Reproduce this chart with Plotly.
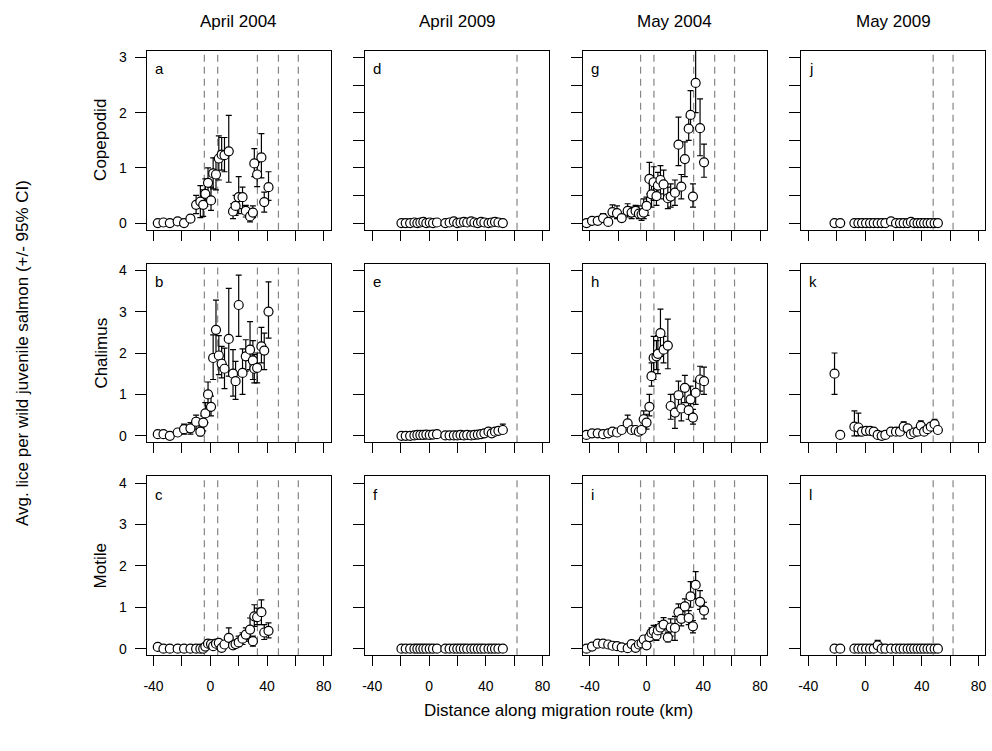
import plotly.graph_objects as go

W, H = 992, 751

# ---------------- data (km along migration route, mean lice, 95% CI) ----------------
x_apr04 = [-37, -33, -28.5, -23, -18.5, -14, -10, -7, -5, -3.5, -1.6, 0.5, 2, 4, 6, 8, 10, 13,
           16, 17.8, 20, 22.7, 25, 28, 30, 31, 33, 36, 38, 41]
x_apr09 = [-19.4, -16.4, -13.3, -10.3, -8.2, -6.1, -4, -1.9, 0.5, 2.8, 5.6, 11.5, 14.5, 17.5,
           19.9, 22.2, 24.6, 26.9, 29.7, 32, 34.4, 36.7, 39, 41.9, 44.2, 46.5, 48.9, 52]
x_may04 = [-42.3, -38.4, -34.4, -30.6, -27, -24, -20.8, -17.5, -13.3, -10.5, -7.7, -5.4, -3.5,
           -2, 0, 2, 3.5, 5, 7, 8, 9.8, 12, 15, 17, 20, 22.5, 24.5, 27, 29.7, 31, 32.7, 34.6,
           37.7, 40.5]
x_may09 = [-21.5, -17.5, -7.5, -4.7, -2.1, 0.7, 3.5, 6.1, 8.9, 11.7, 14.3, 18.3, 21.8, 24.6,
           27.2, 30, 32.3, 34.6, 37, 39.3, 41.6, 44, 46.3, 49, 51.3]

# a: Copepodid, April 2004
a_mean = [0.0, 0.01, 0.0, 0.03, 0.0, 0.08, 0.33, 0.39, 0.33, 0.53, 0.73, 0.41, 0.90, 0.88, 1.17,
          1.24, 1.23, 1.30, 0.21, 0.31, 0.47, 0.47, 0.22, 0.12, 0.19, 1.08, 0.88, 1.19, 0.38, 0.65]
a_lo = [None, None, None, None, None, 0.02, 0.17, 0.10, 0.12, 0.30, 0.47, 0.23, 0.62, 0.60, 0.78,
        0.96, 0.93, 0.74, 0.08, 0.14, 0.17, 0.26, 0.11, 0.02, 0.10, 0.84, 0.66, 0.82, 0.20, 0.41]
a_hi = [None, None, None, None, None, 0.14, 0.50, 0.68, 0.60, 0.80, 1.00, 0.65, 1.18, 1.18, 1.58,
        1.55, 1.55, 1.95, 0.35, 0.50, 0.84, 0.65, 0.32, 0.20, 0.31, 1.35, 1.10, 1.62, 0.56, 0.93]
# b: Chalimus, April 2004
b_mean = [0.04, 0.04, 0.0, 0.08, 0.16, 0.18, 0.34, 0.10, 0.32, 0.54, 1.00, 0.70, 1.88, 2.56, 1.94,
          1.74, 1.62, 2.34, 1.50, 1.32, 3.16, 1.52, 1.92, 2.08, 1.82, 1.62, 1.64, 2.16, 2.06, 3.00]
b_lo = [None, None, None, None, 0.04, 0.04, 0.16, 0.0, 0.12, 0.32, 0.72, 0.48, 1.36, 1.88, 1.48,
        1.40, 1.14, 1.44, 0.96, 0.88, 2.40, 1.00, 1.56, 1.60, 1.36, 1.28, 1.28, 1.76, 1.60, 2.36]
b_hi = [None, None, None, None, 0.28, 0.32, 0.50, 0.24, 0.48, 0.80, 1.30, 0.96, 2.44, 3.28, 2.42,
        2.16, 2.12, 3.56, 2.08, 1.80, 3.88, 2.10, 2.32, 2.76, 2.30, 1.96, 2.00, 2.62, 2.48, 3.72]
# c: Motile, April 2004
c_mean = [0.04, 0.0, 0.0, 0.0, 0.0, 0.0, 0.0, 0.0, 0.0, 0.05, 0.12, 0.11, 0.06, 0.12, 0.14, 0.02,
          0.10, 0.26, 0.08, 0.11, 0.15, 0.24, 0.34, 0.46, 0.18, 0.78, 0.76, 0.88, 0.39, 0.43]
c_lo = [None, None, None, None, None, None, None, None, None, None, 0.02, 0.05, None, 0.04, 0.06,
        None, None, 0.10, None, None, 0.05, 0.10, 0.18, 0.22, 0.06, 0.54, 0.58, 0.58, 0.22, 0.26]
c_hi = [None, None, None, None, None, None, None, None, None, None, 0.22, 0.17, None, 0.20, 0.22,
        None, None, 0.50, None, None, 0.30, 0.38, 0.50, 0.74, 0.30, 1.06, 0.98, 1.18, 0.58, 0.62]

# d: Copepodid, April 2009
d_mean = [0.0, 0.0, 0.0, 0.01, 0.0, 0.01, 0.02, 0.0, 0.01, 0.0, 0.01, 0.0, 0.01, 0.03, 0.0, 0.01,
          0.02, 0.01, 0.03, 0.01, 0.0, 0.02, 0.01, 0.0, 0.01, 0.02, 0.01, 0.0]
# e: Chalimus, April 2009
e_mean = [0.0, 0.0, 0.0, 0.01, 0.02, 0.02, 0.02, 0.03, 0.02, 0.03, 0.04, 0.01, 0.01, 0.01, 0.01,
          0.02, 0.01, 0.02, 0.01, 0.02, 0.03, 0.04, 0.06, 0.10, 0.06, 0.10, 0.12, 0.14]
e_lo = [None] * 23 + [0.04, None, 0.04, 0.04, 0.06]
e_hi = [None] * 23 + [0.16, None, 0.16, 0.20, 0.28]
# f: Motile, April 2009
f_mean = [0.0] * 28

# g: Copepodid, May 2004
g_mean = [0.0, 0.04, 0.04, 0.09, 0.02, 0.20, 0.18, 0.09, 0.22, 0.19, 0.22, 0.17, 0.16, 0.19, 0.31,
          0.80, 0.52, 0.74, 0.49, 0.68, 0.78, 0.70, 0.45, 0.48, 0.55, 1.42, 0.66, 1.16, 1.71, 1.96,
          0.48, 2.54, 1.72, 1.10]
g_lo = [None, 0.01, None, 0.01, None, 0.11, 0.08, 0.04, 0.11, 0.08, 0.12, 0.08, 0.05, 0.08, 0.14,
        0.53, 0.29, 0.41, 0.32, 0.47, 0.53, 0.44, 0.26, 0.29, 0.32, 1.04, 0.44, 0.84, 1.50, 1.73,
        0.29, 2.00, 1.22, 0.83]
g_hi = [None, 0.07, None, 0.17, None, 0.33, 0.31, 0.14, 0.35, 0.29, 0.32, 0.31, 0.25, 0.44, 0.47,
        1.10, 0.71, 1.02, 0.65, 0.92, 1.04, 0.96, 0.65, 0.71, 0.78, 1.92, 0.88, 1.47, 1.92, 2.40,
        0.71, 3.30, 2.25, 1.43]
# h: Chalimus, May 2004
h_mean = [0.02, 0.06, 0.06, 0.04, 0.06, 0.10, 0.08, 0.14, 0.30, 0.14, 0.14, 0.10, 0.14, 0.40, 0.32,
          0.70, 1.44, 1.88, 1.92, 1.98, 2.48, 2.08, 2.18, 0.72, 0.56, 0.98, 0.66, 1.16, 0.62, 0.88,
          0.44, 1.04, 1.36, 1.32]
h_lo = [None, None, None, None, None, None, None, None, 0.14, None, None, None, None, 0.24, 0.16,
        0.48, 1.20, 1.36, 1.60, 1.50, 1.92, 1.76, 1.62, 0.40, 0.18, 0.64, 0.36, 0.80, 0.40, 0.56,
        0.28, 0.76, 1.08, 1.00]
h_hi = [None, None, None, None, None, None, None, None, 0.50, None, None, None, None, 0.60, 0.52,
        1.00, 1.76, 2.40, 2.30, 2.42, 3.06, 2.40, 2.82, 1.00, 1.00, 1.32, 0.96, 1.46, 0.82, 1.20,
        0.64, 1.32, 1.68, 1.66]
# i: Motile, May 2004
i_mean = [0.0, 0.05, 0.12, 0.12, 0.10, 0.07, 0.06, 0.03, 0.01, 0.11, 0.02, 0.10, 0.13, 0.22, 0.08,
          0.28, 0.38, 0.42, 0.32, 0.44, 0.51, 0.58, 0.27, 0.51, 0.50, 0.88, 0.72, 1.02, 0.74, 1.26,
          0.54, 1.54, 1.13, 0.92]
i_lo = [None] * 13 + [0.14, None, 0.18, 0.25, 0.28, 0.20, 0.30, 0.36, 0.45, 0.16, 0.30, 0.20, 0.70,
                      0.55, 0.80, 0.58, 1.00, 0.38, 1.20, 0.95, 0.72]
i_hi = [None] * 13 + [0.30, None, 0.38, 0.50, 0.56, 0.45, 0.58, 0.65, 0.75, 0.40, 0.72, 0.78, 1.08,
                      0.90, 1.20, 0.92, 1.62, 0.68, 1.86, 1.40, 1.12]

# j: Copepodid, May 2009
j_mean = [0.0, 0.0, 0.0, 0.0, 0.0, 0.0, 0.0, 0.0, 0.0, 0.0, 0.0, 0.03, 0.0, 0.0, 0.0, 0.0, 0.02,
          0.0, 0.0, 0.0, 0.0, 0.0, 0.0, 0.0, 0.0]
# k: Chalimus, May 2009
k_mean = [1.50, 0.02, 0.22, 0.20, 0.10, 0.12, 0.12, 0.10, 0.02, 0.0, 0.02, 0.10, 0.10, 0.10, 0.22,
          0.18, 0.04, 0.08, 0.10, 0.24, 0.10, 0.16, 0.22, 0.28, 0.14]
k_lo = [1.00, None, 0.0, 0.0, None, 0.06, None, None, None, None, None, None, 0.04, None, 0.12,
        None, None, None, None, 0.12, None, None, None, 0.18, None]
k_hi = [2.00, None, 0.60, 0.55, None, 0.18, None, None, None, None, None, None, 0.20, None, 0.34,
        None, None, None, None, 0.36, None, None, None, 0.40, None]
# l: Motile, May 2009
l_mean = [0.0, 0.0, 0.0, 0.0, 0.0, 0.0, 0.0, 0.0, 0.08, 0.0, 0.0, 0.0, 0.0, 0.0, 0.0, 0.0, 0.0,
          0.0, 0.0, 0.0, 0.0, 0.0, 0.0, 0.0, 0.0]
l_lo = [None] * 8 + [0.0] + [None] * 16
l_hi = [None] * 8 + [0.20] + [None] * 16

# reference lines (km) per column
farms_apr04 = [-4.2, 5.2, 33.2, 48, 62]
farms_apr09 = [62]
farms_may04 = [-4.2, 5.2, 33.2, 48, 62]
farms_may09 = [48, 62]

col_titles = ["April 2004", "April 2009", "May 2004", "May 2009"]
row_titles = ["Copepodid", "Chalimus", "Motile"]
x_ticks = [-40, -20, 0, 20, 40, 60, 80]
x_ticklabels = ["-40", "", "0", "", "40", "", "80"]
panel_letters = "abcdefghijkl"

# ---------------- layout geometry (pixels) ----------------
col_left = [144.3, 363.9, 582.3, 801.7]
col_w = 184.7
row_top = [50.0, 263.3, 476.7]
row_h = 179.3
x_range = [-44.8, 84.8]
y_ranges = [[-0.12, 3.12], [-0.16, 4.16], [-0.16, 4.16]]

FONT = "Liberation Sans, Arial, Helvetica, sans-serif"


def px(x):
    return x / W


def py(y):
    return 1 - y / H


def err(mean, lo, hi):
    if lo is None:
        lo = [None] * len(mean)
    if hi is None:
        hi = [None] * len(mean)
    up = [(h - m) if h is not None else 0 for m, h in zip(mean, hi)]
    dn = [(m - l) if l is not None else 0 for m, l in zip(mean, lo)]
    return up, dn


columns = [
    (x_apr04, [(a_mean, a_lo, a_hi), (b_mean, b_lo, b_hi), (c_mean, c_lo, c_hi)], farms_apr04),
    (x_apr09, [(d_mean, None, None), (e_mean, e_lo, e_hi), (f_mean, None, None)], farms_apr09),
    (x_may04, [(g_mean, g_lo, g_hi), (h_mean, h_lo, h_hi), (i_mean, i_lo, i_hi)], farms_may04),
    (x_may09, [(j_mean, None, None), (k_mean, k_lo, k_hi), (l_mean, l_lo, l_hi)], farms_may09),
]

fig = go.Figure()
layout = {}
shapes = []
annotations = []

for r in range(3):
    for c in range(4):
        idx = r * 4 + c + 1
        xa = "x" if idx == 1 else f"x{idx}"
        ya = "y" if idx == 1 else f"y{idx}"
        xs, series, farms = columns[c]
        mean, lo, hi = series[r]
        up, dn = err(mean, lo, hi)

        for f in farms:
            shapes.append(dict(type="line", xref=xa, yref=f"{ya} domain", x0=f, x1=f, y0=0, y1=1,
                               line=dict(color="#858585", width=1.2, dash="7px,5px"),
                               layer="below"))

        fig.add_trace(go.Scatter(
            x=xs, y=mean, mode="markers", xaxis=xa, yaxis=ya, showlegend=False,
            marker=dict(symbol="circle", size=9, color="white",
                        line=dict(color="black", width=1.2)),
            error_y=dict(type="data", symmetric=False, array=up, arrayminus=dn,
                         color="black", thickness=1.2, width=3),
            hoverinfo="skip"))

        x0 = col_left[c]
        y0 = row_top[r]
        xkey = "xaxis" if idx == 1 else f"xaxis{idx}"
        ykey = "yaxis" if idx == 1 else f"yaxis{idx}"
        layout[xkey] = dict(
            domain=[px(x0), px(x0 + col_w)], range=x_range, anchor=ya,
            tickmode="array", tickvals=x_ticks, ticktext=x_ticklabels,
            showticklabels=(r == 2), ticks="outside", ticklen=10, tickwidth=1,
            ticklabelstandoff=8,
            tickcolor="black", showline=True, linecolor="black", linewidth=1, mirror=True,
            showgrid=False, zeroline=False, fixedrange=True,
            tickfont=dict(family=FONT, size=14, color="black"))
        if r == 0:
            yt = [0, 1, 2, 3] if c == 0 else [0, 0.5, 1, 1.5, 2, 2.5, 3]
        else:
            yt = [0, 1, 2, 3, 4]
        layout[ykey] = dict(
            domain=[py(y0 + row_h), py(y0)], range=y_ranges[r], anchor=xa,
            tickmode="array", tickvals=yt, ticktext=[f"{v:g}" for v in yt],
            showticklabels=(c == 0), ticks="outside", ticklen=11, tickwidth=1,
            ticklabelstandoff=5,
            tickcolor="black", showline=True, linecolor="black", linewidth=1, mirror=True,
            showgrid=False, zeroline=False, fixedrange=True,
            tickfont=dict(family=FONT, size=14, color="black"))

        annotations.append(dict(
            text=panel_letters[c * 3 + r], xref="paper", yref="paper",
            x=px(x0 + 6), y=py(y0 + 18), xanchor="left", yanchor="middle",
            showarrow=False, font=dict(family=FONT, size=15, color="black")))

for c, t in enumerate(col_titles):
    annotations.append(dict(text=t, xref="paper", yref="paper",
                            x=px(col_left[c] + col_w / 2), y=py(21), xanchor="center",
                            yanchor="middle", showarrow=False,
                            font=dict(family=FONT, size=17, color="black")))
for r, t in enumerate(row_titles):
    annotations.append(dict(text=t, xref="paper", yref="paper", textangle=-90,
                            x=px(98), y=py(row_top[r] + row_h / 2), xanchor="center",
                            yanchor="middle", showarrow=False,
                            font=dict(family=FONT, size=17, color="black")))
annotations.append(dict(text="Avg. lice per wild juvenile salmon (+/- 95% CI)", xref="paper",
                        yref="paper", textangle=-90, x=px(19), y=py(353), xanchor="center",
                        yanchor="middle", showarrow=False,
                        font=dict(family=FONT, size=17, color="black")))
annotations.append(dict(text="Distance along migration route (km)", xref="paper",
                        yref="paper", x=px(558), y=py(711), xanchor="center",
                        yanchor="middle", showarrow=False,
                        font=dict(family=FONT, size=17, color="black")))

fig.update_layout(**layout)
fig.update_layout(width=W, height=H, margin=dict(l=0, r=0, t=0, b=0),
                  paper_bgcolor="white", plot_bgcolor="white",
                  shapes=shapes, annotations=annotations, hovermode=False,
                  font=dict(family=FONT, color="black"))

fig.write_html("out.html",
               config={"displayModeBar": False, "staticPlot": True},
               post_script="document.body.style.margin='0';"
                           "document.body.style.overflow='hidden';")
